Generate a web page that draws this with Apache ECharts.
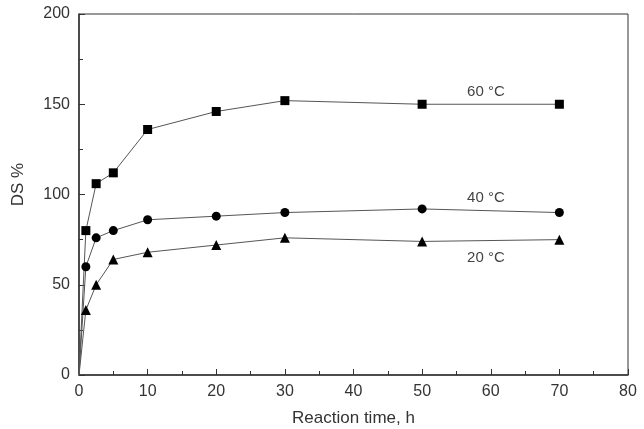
<!DOCTYPE html>
<html>
<head>
<meta charset="utf-8">
<script src="https://cdn.jsdelivr.net/npm/echarts@6/dist/echarts.min.js"></script>
<style>
  html, body { margin: 0; padding: 0; background: #fff; }
  #chart { width: 644px; height: 429px; }
</style>
</head>
<body>
<div id="chart"></div>
<script>
// reaction time, h
const times = [0, 1, 2.5, 5, 10, 20, 30, 50, 70];
// DS % per temperature
const ds60 = [0, 80, 106, 112, 136, 146, 152, 150, 150];
const ds40 = [0, 60, 76, 80, 86, 88, 90, 92, 90];
const ds20 = [0, 36, 50, 64, 68, 72, 76, 74, 75];
const seriesNames = ['60 °C', '40 °C', '20 °C'];
const symbols = ['rect', 'circle', 'triangle'];
// label anchor positions (data units)
const labelPos = [[59.3, 157], [59.3, 98], [59.3, 65]];

const font = 'Liberation Sans, Arial, sans-serif';
const ink = '#333';

const chart = echarts.init(document.getElementById('chart'));

function makeSeries(name, values, symbol, pos) {
    return {
        name: name,
        type: 'line',
        data: times.map((t, i) => [t, values[i]]),
        symbol: symbol,
        symbolSize: (v, p) => p.dataIndex === 0 ? 0 : (symbol === 'triangle' ? 10 : 9),
        showSymbol: true,
        lineStyle: { color: '#555', width: 1 },
        itemStyle: { color: '#000' },
        animation: false,
        markPoint: {
            symbol: 'circle',
            symbolSize: 1,
            itemStyle: { color: 'rgba(0,0,0,0)' },
            data: [{ coord: pos }],
            label: {
                show: true,
                position: 'inside',
                formatter: name,
                color: '#444',
                fontFamily: font,
                fontSize: 15
            }
        }
    };
}

chart.setOption({
    backgroundColor: '#fff',
    grid: {
        left: 79, right: 16, top: 14, bottom: 54,
        outerBoundsMode: 'none',
        show: true, borderColor: ink, borderWidth: 1
    },
    xAxis: {
        type: 'value',
        min: 0, max: 80, interval: 10,
        name: 'Reaction time, h',
        nameLocation: 'middle',
        nameGap: 35,
        nameMoveOverlap: false,
        nameTextStyle: { color: ink, fontFamily: font, fontSize: 17 },
        axisLine: { lineStyle: { color: ink, width: 1.5 } },
        axisTick: { inside: true, length: 6, lineStyle: { color: ink } },
        minorTick: { show: true, splitNumber: 2, length: 4, lineStyle: { color: ink } },
        axisLabel: { color: ink, fontFamily: font, fontSize: 16, margin: 9 },
        splitLine: { show: false }
    },
    yAxis: {
        type: 'value',
        min: 0, max: 200, interval: 50,
        name: 'DS %',
        nameLocation: 'middle',
        nameGap: 52,
        nameMoveOverlap: false,
        nameTextStyle: { color: ink, fontFamily: font, fontSize: 17, padding: [0, 0, 0, 20] },
        axisLine: { lineStyle: { color: ink, width: 1.5 } },
        axisTick: { inside: true, length: 6, lineStyle: { color: ink } },
        minorTick: { show: true, splitNumber: 2, length: 4, lineStyle: { color: ink } },
        axisLabel: { color: ink, fontFamily: font, fontSize: 16, margin: 9 },
        splitLine: { show: false }
    },
    series: [
        makeSeries(seriesNames[0], ds60, symbols[0], labelPos[0]),
        makeSeries(seriesNames[1], ds40, symbols[1], labelPos[1]),
        makeSeries(seriesNames[2], ds20, symbols[2], labelPos[2])
    ]
});
</script>
</body>
</html>
